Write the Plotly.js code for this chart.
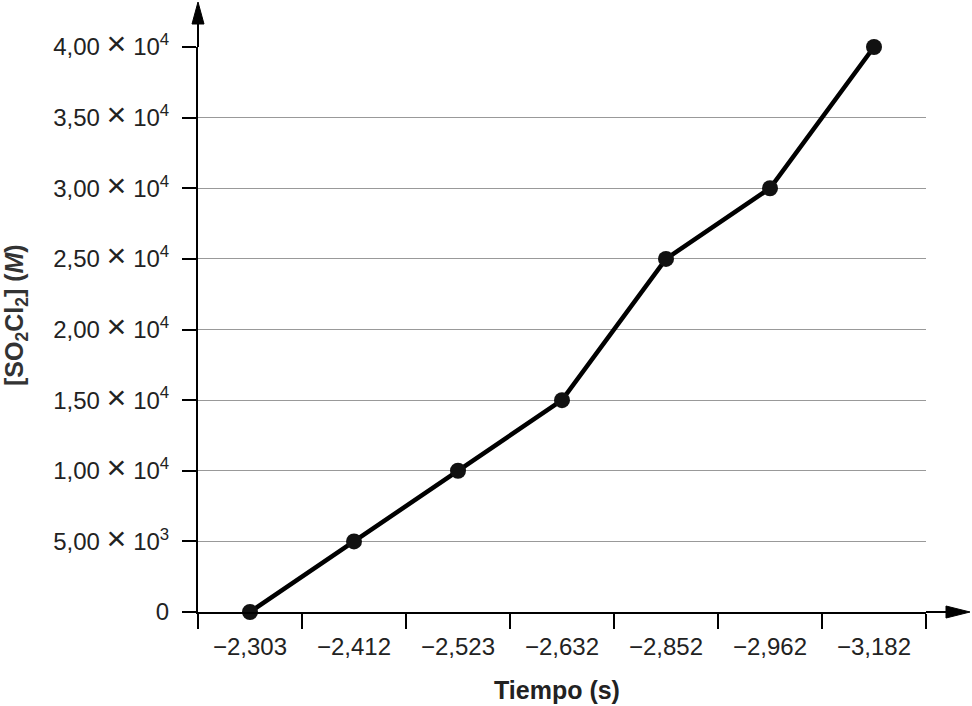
<!DOCTYPE html>
<html>
<head>
<meta charset="utf-8">
<script src="https://cdn.plot.ly/plotly-3.0.1.min.js"></script>
<style>html,body{margin:0;padding:0;background:#fff;}#chart{width:972px;height:706px;}</style>
</head>
<body>
<div id="chart"></div>
<script>
// Data
var timeLabels = ["\u22122,303", "\u22122,412", "\u22122,523", "\u22122,632", "\u22122,852", "\u22122,962", "\u22123,182"];
var concentration = [0, 5000, 10000, 15000, 25000, 30000, 40000];
var yTickVals = [0, 5000, 10000, 15000, 20000, 25000, 30000, 35000, 40000];
var yMantissa = ["0", "5,00", "1,00", "1,50", "2,00", "2,50", "3,00", "3,50", "4,00"];
var yExponent = [null, 3, 4, 4, 4, 4, 4, 4, 4];
var TIMES = "<span style=\"font-size:34px\">\u00d7</span>";
var yTickText = yMantissa.map(function (m, i) {
  return yExponent[i] === null ? m : m + " " + TIMES + " 10<sup>" + yExponent[i] + "</sup>";
});

var FONT = "Liberation Sans, Arial, Helvetica, sans-serif";
var L = 198, R = 926, T = 47, B = 612, W = 972, H = 706;
var pw = R - L, ph = B - T;
function px(x) { return (x - L) / pw; }
function py(y) { return (B - y) / ph; }

var trace = {
  x: timeLabels,
  y: concentration,
  type: "scatter",
  mode: "lines+markers",
  line: { color: "#000", width: 4.5 },
  marker: { color: "#111", size: 16 },
  cliponaxis: false,
  hoverinfo: "skip"
};

var shapes = [
  { type: "line", xref: "paper", yref: "paper", x0: 0, x1: 0, y0: 1, y1: py(20), line: { color: "#000", width: 2 } },
  { type: "path", xref: "paper", yref: "paper", fillcolor: "#000", line: { color: "#000", width: 1 },
    path: "M " + px(L - 6) + " " + py(24) + " L " + px(L) + " " + py(2) + " L " + px(L + 6) + " " + py(24) + " Z" },
  { type: "line", xref: "paper", yref: "paper", x0: 1, x1: px(950), y0: 0, y1: 0, line: { color: "#000", width: 2 } },
  { type: "path", xref: "paper", yref: "paper", fillcolor: "#000", line: { color: "#000", width: 1 },
    path: "M " + px(946) + " " + py(B - 6) + " L " + px(970) + " " + py(B) + " L " + px(946) + " " + py(B + 6) + " Z" }
];

var annotations = [
  { xref: "paper", yref: "paper", x: px(557), y: py(690), xanchor: "center", yanchor: "middle",
    showarrow: false, text: "<b>Tiempo (s)</b>", font: { family: FONT, size: 25, color: "#222" } },
  { xref: "paper", yref: "paper", x: px(16), y: py(315), xanchor: "center", yanchor: "middle",
    showarrow: false, textangle: -90, text: "<b>[SO<sub>2</sub>Cl<sub>2</sub>] (<i>M</i>)</b>",
    font: { family: FONT, size: 25, color: "#333" } }
];

var layout = {
  width: W, height: H,
  margin: { l: L, r: W - R, t: T, b: H - B, pad: 0 },
  paper_bgcolor: "#fff", plot_bgcolor: "#fff",
  showlegend: false,
  font: { family: FONT, color: "#222", size: 24 },
  xaxis: {
    type: "category",
    categoryorder: "array", categoryarray: timeLabels,
    range: [-0.5, 6.5],
    tickson: "boundaries",
    ticks: "outside", ticklen: 15, tickwidth: 2, tickcolor: "#000",
    ticklabelstandoff: 12,
    showline: true, linecolor: "#000", linewidth: 2,
    showgrid: false, zeroline: false,
    tickfont: { family: FONT, size: 24, color: "#222" },
    fixedrange: true
  },
  yaxis: {
    range: [0, 40000],
    tickmode: "array", tickvals: yTickVals, ticktext: yTickText,
    ticks: "outside", ticklen: 14, tickwidth: 2, tickcolor: "#000",
    ticklabelstandoff: 8,
    showline: true, linecolor: "#000", linewidth: 2,
    showgrid: true, gridcolor: "#999", gridwidth: 1.2,
    zeroline: false,
    tickfont: { family: FONT, size: 24, color: "#222" },
    fixedrange: true
  },
  shapes: shapes,
  annotations: annotations
};

Plotly.newPlot("chart", [trace], layout, { displayModeBar: false, staticPlot: true });
</script>
</body>
</html>
